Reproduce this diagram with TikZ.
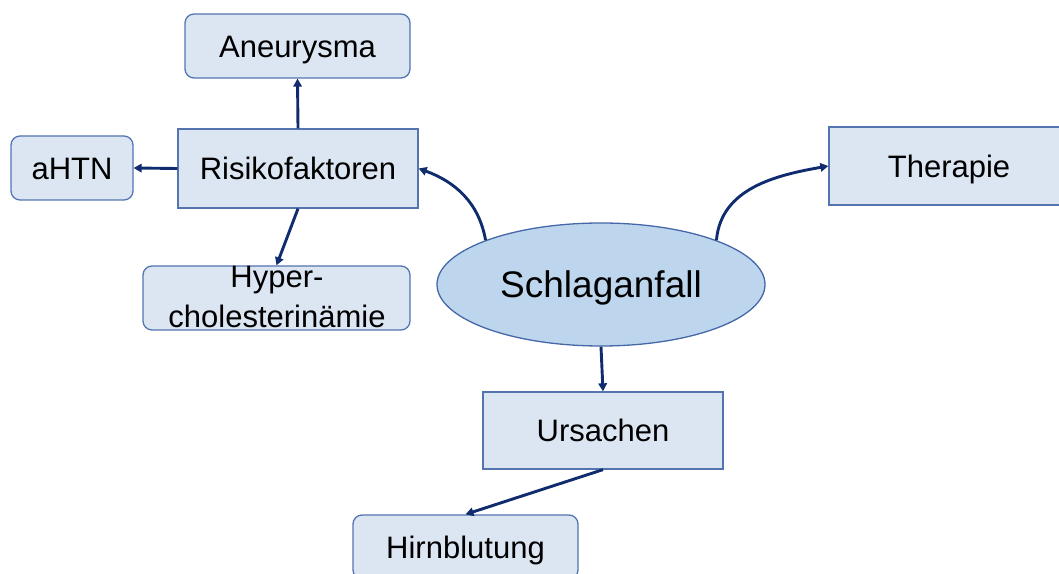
\documentclass[tikz,border=0pt]{standalone}
\usepackage{fontspec}
\setmainfont{Liberation Sans}
\usetikzlibrary{shapes.geometric,arrows.meta}
\definecolor{boxfill}{RGB}{220,230,243}
\definecolor{boxline}{RGB}{84,116,176}
\definecolor{ellfill}{RGB}{189,214,237}
\definecolor{ellline}{RGB}{70,104,168}
\definecolor{arrowc}{RGB}{16,44,110}
\tikzset{
  every node/.style={font=\fontsize{31}{40}\selectfont, text=black, inner sep=0pt},
  capc/.style={text height=22.5pt, text depth=0pt},
  rbox/.style={draw=boxline, line width=1.3pt, fill=boxfill, rounded corners=9pt},
  sbox/.style={draw=boxline, line width=1.3pt, fill=boxfill},
  conn/.style={draw=arrowc, line width=2.9pt, -{Triangle[length=8pt,width=8.5pt]}},
}
\begin{document}
\begin{tikzpicture}[x=1pt,y=1pt]
\useasboundingbox (0,0) rectangle (1059,573);
\clip (0,0) rectangle (1059,573);
\node[rbox, capc, minimum width=225pt, minimum height=64pt] (aneu) at (297.5,527) {Aneurysma};
\node[rbox, capc, minimum width=122pt, minimum height=64pt] (ahtn) at (72,405) {aHTN};
\node[sbox, capc, minimum width=240pt, minimum height=79pt] (risk) at (298,404.5) {Risikofaktoren};
\node[rbox, minimum width=267pt, minimum height=64pt] (hyp) at (276.5,275) {};
\node[align=center] (hyptext) at (277,276.3) {Hyper-\\cholesterinämie};
\node[ellipse, draw=ellline, line width=1.3pt, fill=ellfill, minimum width=328pt, minimum height=123pt, font=\fontsize{37}{44}\selectfont, text height=27pt, text depth=0pt] (ell) at (601,288.5) {Schlaganfall};
\node[sbox, capc, minimum width=240pt, minimum height=77pt] (urs) at (603,142.5) {Ursachen};
\node[rbox, capc, minimum width=225pt, minimum height=64pt] (hirn) at (465.5,26) {Hirnblutung};
\node[sbox, capc, minimum width=240pt, minimum height=78pt] (ther) at (949,407) {Therapie};
\draw[conn] (risk.north) -- (aneu.south);
\draw[conn] (risk.west) -- (ahtn.east);
\draw[conn] (risk.south) -- (hyp.north);
\draw[conn] (ell.south) -- (urs.north);
\draw[conn] (urs.south) -- (hirn.north);
\draw[conn] (ell.159) to[out=100,in=-20] (risk.east);
\draw[conn] (ell.21) to[out=85,in=190] (ther.west);
\end{tikzpicture}
\end{document}
